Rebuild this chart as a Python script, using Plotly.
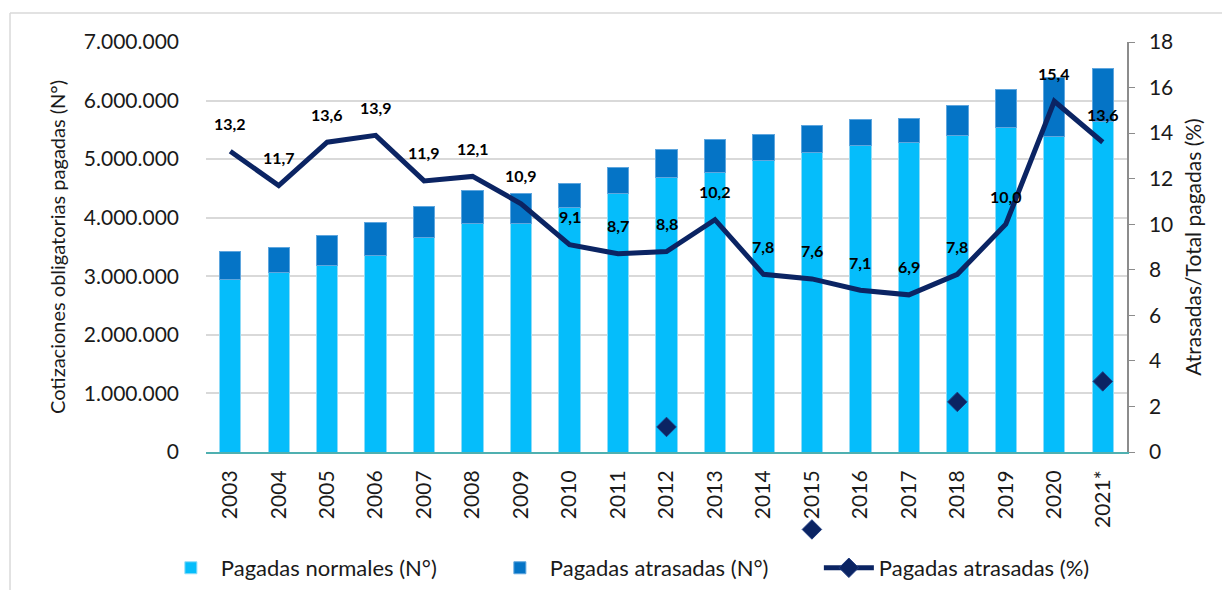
import plotly.graph_objects as go

# Datos
years = ["2003", "2004", "2005", "2006", "2007", "2008", "2009", "2010", "2011", "2012",
         "2013", "2014", "2015", "2016", "2017", "2018", "2019", "2020", "2021*"]
normales = [2940000, 3060000, 3180000, 3350000, 3660000, 3900000, 3900000, 4170000, 4420000, 4690000,
            4770000, 4970000, 5120000, 5240000, 5280000, 5410000, 5540000, 5380000, 5640000]
atrasadas = [480000, 440000, 520000, 570000, 530000, 570000, 520000, 420000, 440000, 480000,
             570000, 450000, 450000, 430000, 420000, 500000, 650000, 1020000, 900000]
pct_atrasadas = [13.2, 11.7, 13.6, 13.9, 11.9, 12.1, 10.9, 9.1, 8.7, 8.8,
                 10.2, 7.8, 7.6, 7.1, 6.9, 7.8, 10.0, 15.4, 13.6]

# marcadores sueltos que aparecen en el grafico original (uno cae bajo el eje)
marker_years = ["2012", "2015", "2018", "2021*"]
marker_values = [1.1, -3.4, 2.2, 3.1]

FONT = "Lato, 'Open Sans', sans-serif"
C_NORMAL = "#05BDFB"
C_ATRASO = "#0574C6"
C_LINEA = "#0B2463"
C_TEXT = "#1a1a1a"

PCT_MAX = 18
# el area de graficos se extiende bajo el eje x para el rombo suelto
y_dom0 = 0.2085
pct_min_ext = PCT_MAX - PCT_MAX / (1 - y_dom0)

fig = go.Figure()

fig.add_trace(go.Bar(
    x=years, y=normales, name="Pagadas normales (N°)",
    marker=dict(color=C_NORMAL, line=dict(color="#8EDCF8", width=1)),
))
fig.add_trace(go.Bar(
    x=years, y=atrasadas, name="Pagadas atrasadas (N°)",
    marker=dict(color=C_ATRASO, line=dict(color="#5FA6DE", width=1)),
))

fig.add_trace(go.Scatter(
    x=years, y=pct_atrasadas, yaxis="y2", mode="lines",
    line=dict(color=C_LINEA, width=5), showlegend=False,
))

diamond = dict(symbol="diamond", size=15, color=C_LINEA, line=dict(color="#1F3B80", width=1))
fig.add_trace(go.Scatter(
    x=marker_years, y=marker_values, yaxis="y3", mode="markers",
    marker=diamond, showlegend=False,
))
# entrada de leyenda (linea + rombo)
fig.add_trace(go.Scatter(
    x=[None], y=[None], yaxis="y2", mode="lines+markers", name="Pagadas atrasadas (%)",
    line=dict(color=C_LINEA, width=5), marker=diamond,
))

# etiquetas de la linea (x como indice de categoria)
for i, v in enumerate(pct_atrasadas):
    fig.add_annotation(
        x=i, y=v, xref="x", yref="y2", yshift=28, showarrow=False,
        text="<b>" + f"{v:.1f}".replace(".", ",") + "</b>",
        font=dict(size=16, color="black", family=FONT),
    )

# borde del area del grafico
fig.add_shape(type="line", xref="paper", yref="paper", x0=-0.2128, x1=1.2, y0=1.056, y1=1.056,
              line=dict(color="#D9D9D9", width=1.5))
fig.add_shape(type="line", xref="paper", yref="paper", x0=-0.2128, x1=-0.2128, y0=1.056, y1=-0.2,
              line=dict(color="#D9D9D9", width=1.5))

fig.update_layout(
    width=1214, height=582,
    margin=dict(l=198, r=95, t=34, b=30, autoexpand=False),
    barmode="stack", bargap=0.56,
    separators=",.",
    paper_bgcolor="white", plot_bgcolor="rgba(0,0,0,0)",
    font=dict(family=FONT, size=18, color=C_TEXT),
    xaxis=dict(
        type="category", range=[-0.5, len(years) - 0.5], tickangle=-90, showgrid=False,
        automargin=False, showline=True, linecolor="#4FB0B0", linewidth=2,
        ticks="", ticklabelstandoff=8, anchor="y",
        tickfont=dict(size=21, family=FONT, color=C_TEXT),
    ),
    yaxis=dict(
        domain=[y_dom0, 1],
        range=[0, 7000000], dtick=1000000, tickformat=",d", automargin=False,
        showgrid=True, gridcolor="#D9D9D9", gridwidth=1.5,
        zeroline=False, showline=False, ticks="", ticklabelstandoff=26,
        tickfont=dict(size=21, family=FONT, color=C_TEXT),
        title=dict(text="Cotizaciones obligatorias pagadas (N°)", standoff=12,
                   font=dict(size=20, family=FONT, color=C_TEXT)),
    ),
    yaxis2=dict(
        overlaying="y", side="right", range=[0, PCT_MAX], dtick=2, automargin=False,
        showgrid=False, zeroline=False,
        showline=True, linecolor="#8C8C8C", linewidth=1.5,
        ticks="outside", ticklen=6, tickcolor="#8C8C8C", ticklabelstandoff=10,
        tickfont=dict(size=21, family=FONT, color=C_TEXT),
        title=dict(text="Atrasadas/Total pagadas (%)", standoff=14,
                   font=dict(size=21, family=FONT, color=C_TEXT)),
    ),
    yaxis3=dict(
        domain=[0, 1], range=[pct_min_ext, PCT_MAX], anchor="x", visible=False,
    ),
    legend=dict(
        orientation="h", x=-0.049, xanchor="left", y=-0.0154, yanchor="middle",
        font=dict(size=22, family=FONT, color=C_TEXT),
        traceorder="normal", itemwidth=50, entrywidth=264,
    ),
)

fig.write_html("out.html")
